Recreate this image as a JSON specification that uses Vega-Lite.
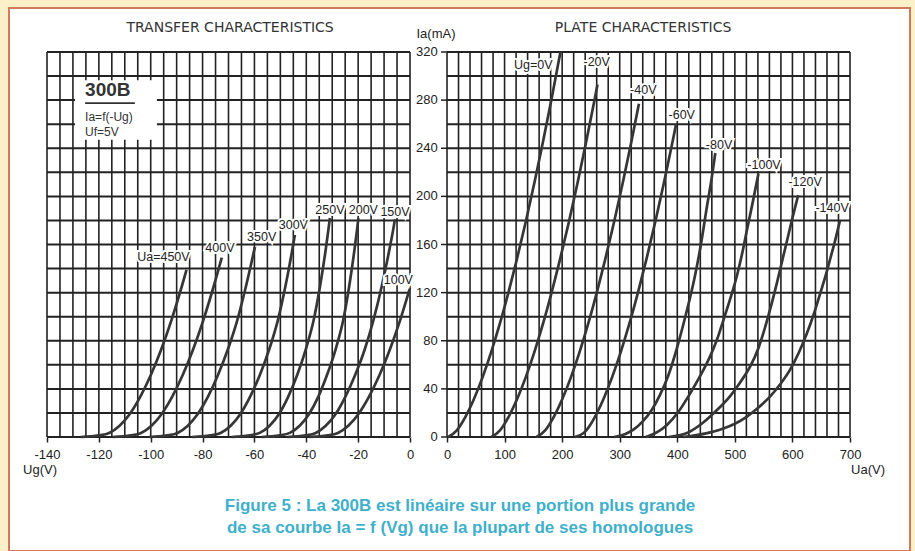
{
  "$schema": "https://vega.github.io/schema/vega-lite/v6.json",
  "width": 901,
  "height": 543,
  "autosize": {"type": "none"},
  "padding": {"left": 9, "top": 8, "right": 5, "bottom": 0},
  "background": "#fbf0c8",
  "config": {
    "view": {"fill": "#ffffff", "stroke": "#cf7a5a", "strokeWidth": 2},
    "font": "Liberation Sans"
  },
  "datasets": {
    "lv": [{"v":-140},{"v":-135},{"v":-130},{"v":-125},{"v":-120},{"v":-115},{"v":-110},{"v":-105},{"v":-100},{"v":-95},{"v":-90},{"v":-85},{"v":-80},{"v":-75},{"v":-70},{"v":-65},{"v":-60},{"v":-55},{"v":-50},{"v":-45},{"v":-40},{"v":-35},{"v":-30},{"v":-25},{"v":-20},{"v":-15},{"v":-10},{"v":-5},{"v":0}],
    "rv": [{"u":0},{"u":20},{"u":40},{"u":60},{"u":80},{"u":100},{"u":120},{"u":140},{"u":160},{"u":180},{"u":200},{"u":220},{"u":240},{"u":260},{"u":280},{"u":300},{"u":320},{"u":340},{"u":360},{"u":380},{"u":400},{"u":420},{"u":440},{"u":460},{"u":480},{"u":500},{"u":520},{"u":540},{"u":560},{"u":580},{"u":600},{"u":620},{"u":640},{"u":660},{"u":680},{"u":700}],
    "hh": [{"i":0},{"i":20},{"i":40},{"i":60},{"i":80},{"i":100},{"i":120},{"i":140},{"i":160},{"i":180},{"i":200},{"i":220},{"i":240},{"i":260},{"i":280},{"i":300},{"i":320}],
    "major": [{"i":0},{"i":40},{"i":80},{"i":120},{"i":160},{"i":200},{"i":240},{"i":280},{"i":320}],
    "transfer": [
      {"c":"450","ug":-127,"ia":0},{"c":"450","ug":-120,"ia":1.3},{"c":"450","ug":-116,"ia":3.4},{"c":"450","ug":-112,"ia":9.4},{"c":"450","ug":-108,"ia":19.4},{"c":"450","ug":-104,"ia":33.6},{"c":"450","ug":-100,"ia":51.3},{"c":"450","ug":-96,"ia":72.5},{"c":"450","ug":-92,"ia":97.2},{"c":"450","ug":-88,"ia":125.3},{"c":"450","ug":-86.2,"ia":139},
      {"c":"400","ug":-114.7,"ia":0},{"c":"400","ug":-107.7,"ia":1.3},{"c":"400","ug":-103.7,"ia":3.4},{"c":"400","ug":-99.7,"ia":9.4},{"c":"400","ug":-95.7,"ia":19.4},{"c":"400","ug":-91.7,"ia":33.6},{"c":"400","ug":-87.7,"ia":51.3},{"c":"400","ug":-83.7,"ia":72.5},{"c":"400","ug":-79.7,"ia":97.2},{"c":"400","ug":-75.7,"ia":125.3},{"c":"400","ug":-72.6,"ia":149},
      {"c":"350","ug":-100.6,"ia":0},{"c":"350","ug":-93.6,"ia":1.3},{"c":"350","ug":-89.65,"ia":3.4},{"c":"350","ug":-85.7,"ia":9.4},{"c":"350","ug":-81.8,"ia":19.4},{"c":"350","ug":-77.9,"ia":33.6},{"c":"350","ug":-74.1,"ia":51.3},{"c":"350","ug":-70.3,"ia":72.5},{"c":"350","ug":-66.6,"ia":97.2},{"c":"350","ug":-63.26,"ia":125.3},{"c":"350","ug":-59.8,"ia":158},
      {"c":"300","ug":-83.95,"ia":0},{"c":"300","ug":-76.95,"ia":1.3},{"c":"300","ug":-73.05,"ia":3.4},{"c":"300","ug":-69.15,"ia":9.4},{"c":"300","ug":-65.35,"ia":19.4},{"c":"300","ug":-61.65,"ia":33.6},{"c":"300","ug":-57.95,"ia":51.3},{"c":"300","ug":-54.35,"ia":72.5},{"c":"300","ug":-50.95,"ia":97.2},{"c":"300","ug":-48.05,"ia":125.3},{"c":"300","ug":-45.3,"ia":156.7},{"c":"300","ug":-44.4,"ia":168},
      {"c":"250","ug":-68.85,"ia":0},{"c":"250","ug":-61.9,"ia":1.3},{"c":"250","ug":-57.95,"ia":3.4},{"c":"250","ug":-54.15,"ia":9.4},{"c":"250","ug":-50.45,"ia":19.4},{"c":"250","ug":-46.95,"ia":33.6},{"c":"250","ug":-43.55,"ia":51.3},{"c":"250","ug":-40.25,"ia":72.5},{"c":"250","ug":-37.15,"ia":97.2},{"c":"250","ug":-34.7,"ia":125.3},{"c":"250","ug":-32.45,"ia":156.7},{"c":"250","ug":-31.4,"ia":173.6},{"c":"250","ug":-30.9,"ia":182},
      {"c":"200","ug":-57.25,"ia":0},{"c":"200","ug":-50.25,"ia":1.3},{"c":"200","ug":-46.35,"ia":3.4},{"c":"200","ug":-42.55,"ia":9.4},{"c":"200","ug":-38.85,"ia":19.4},{"c":"200","ug":-35.35,"ia":33.6},{"c":"200","ug":-32.05,"ia":51.3},{"c":"200","ug":-28.75,"ia":72.5},{"c":"200","ug":-25.75,"ia":97.2},{"c":"200","ug":-23.45,"ia":125.3},{"c":"200","ug":-21.35,"ia":156.7},{"c":"200","ug":-20.35,"ia":173.6},{"c":"200","ug":-19.9,"ia":182},
      {"c":"150","ug":-47.3,"ia":0},{"c":"150","ug":-40.3,"ia":1.3},{"c":"150","ug":-36.35,"ia":3.4},{"c":"150","ug":-32.5,"ia":9.4},{"c":"150","ug":-28.6,"ia":19.4},{"c":"150","ug":-24.9,"ia":33.6},{"c":"150","ug":-21.2,"ia":51.3},{"c":"150","ug":-17.5,"ia":72.5},{"c":"150","ug":-14.1,"ia":97.2},{"c":"150","ug":-10.9,"ia":125.3},{"c":"150","ug":-7.86,"ia":156.7},{"c":"150","ug":-6.38,"ia":173.6},{"c":"150","ug":-5.8,"ia":181},
      {"c":"100","ug":-38.8,"ia":0},{"c":"100","ug":-31.8,"ia":1.3},{"c":"100","ug":-27.8,"ia":3.4},{"c":"100","ug":-23.8,"ia":9.4},{"c":"100","ug":-19.8,"ia":19.4},{"c":"100","ug":-15.8,"ia":33.6},{"c":"100","ug":-11.8,"ia":51.3},{"c":"100","ug":-7.8,"ia":72.5},{"c":"100","ug":-3.8,"ia":97.2},{"c":"100","ug":0,"ia":124}
    ],
    "plate": [
      {"c":"0","ua":2,"ia":0},{"c":"0","ua":17,"ia":5.6},{"c":"0","ua":32,"ia":16.8},{"c":"0","ua":47,"ia":31.8},{"c":"0","ua":62,"ia":50},{"c":"0","ua":77,"ia":71},{"c":"0","ua":92,"ia":94.6},{"c":"0","ua":107,"ia":120.7},{"c":"0","ua":121,"ia":147},{"c":"0","ua":137,"ia":179.3},{"c":"0","ua":152,"ia":211.7},{"c":"0","ua":167,"ia":246},{"c":"0","ua":182,"ia":282},{"c":"0","ua":197,"ia":320},
      {"c":"-20","ua":77,"ia":0},{"c":"-20","ua":92,"ia":5.6},{"c":"-20","ua":107,"ia":16.8},{"c":"-20","ua":122,"ia":31.8},{"c":"-20","ua":137,"ia":50},{"c":"-20","ua":152,"ia":71},{"c":"-20","ua":167,"ia":94.6},{"c":"-20","ua":182,"ia":120.7},{"c":"-20","ua":196,"ia":147},{"c":"-20","ua":212,"ia":179.3},{"c":"-20","ua":227,"ia":211.7},{"c":"-20","ua":242,"ia":246},{"c":"-20","ua":257,"ia":282},{"c":"-20","ua":261.4,"ia":293},
      {"c":"-40","ua":155.5,"ia":0},{"c":"-40","ua":170.5,"ia":5.6},{"c":"-40","ua":185.5,"ia":16.8},{"c":"-40","ua":200.5,"ia":31.8},{"c":"-40","ua":215.5,"ia":50},{"c":"-40","ua":230.5,"ia":71},{"c":"-40","ua":245.5,"ia":94.6},{"c":"-40","ua":260.5,"ia":120.7},{"c":"-40","ua":274.5,"ia":147},{"c":"-40","ua":290.5,"ia":179.3},{"c":"-40","ua":305.5,"ia":211.7},{"c":"-40","ua":320.5,"ia":246},{"c":"-40","ua":333.4,"ia":277},
      {"c":"-60","ua":222,"ia":0},{"c":"-60","ua":240,"ia":4.5},{"c":"-60","ua":257,"ia":16.8},{"c":"-60","ua":272,"ia":31.8},{"c":"-60","ua":287,"ia":50},{"c":"-60","ua":302,"ia":71},{"c":"-60","ua":317,"ia":94.6},{"c":"-60","ua":332,"ia":120.7},{"c":"-60","ua":346,"ia":147},{"c":"-60","ua":362,"ia":179.3},{"c":"-60","ua":377,"ia":211.7},{"c":"-60","ua":392,"ia":246},{"c":"-60","ua":397.9,"ia":260},
      {"c":"-80","ua":290,"ia":0},{"c":"-80","ua":310,"ia":2.5},{"c":"-80","ua":325,"ia":6.5},{"c":"-80","ua":340,"ia":13},{"c":"-80","ua":355,"ia":22},{"c":"-80","ua":370,"ia":35},{"c":"-80","ua":385,"ia":52},{"c":"-80","ua":400,"ia":75},{"c":"-80","ua":415,"ia":102},{"c":"-80","ua":429,"ia":130},{"c":"-80","ua":441,"ia":160},{"c":"-80","ua":452,"ia":193},{"c":"-80","ua":460,"ia":216},{"c":"-80","ua":466,"ia":236},
      {"c":"-100","ua":345,"ia":0},{"c":"-100","ua":365,"ia":4},{"c":"-100","ua":382,"ia":10},{"c":"-100","ua":402,"ia":21},{"c":"-100","ua":422,"ia":36},{"c":"-100","ua":440,"ia":51},{"c":"-100","ua":457,"ia":67},{"c":"-100","ua":469,"ia":81},{"c":"-100","ua":480,"ia":97},{"c":"-100","ua":492,"ia":115},{"c":"-100","ua":503,"ia":133},{"c":"-100","ua":512,"ia":151},{"c":"-100","ua":521,"ia":172},{"c":"-100","ua":531,"ia":195},{"c":"-100","ua":541,"ia":219},
      {"c":"-120","ua":385,"ia":0},{"c":"-120","ua":420,"ia":4},{"c":"-120","ua":445,"ia":12},{"c":"-120","ua":468,"ia":22},{"c":"-120","ua":490,"ia":33},{"c":"-120","ua":510,"ia":46},{"c":"-120","ua":526,"ia":58},{"c":"-120","ua":541,"ia":74},{"c":"-120","ua":553,"ia":92},{"c":"-120","ua":564,"ia":111},{"c":"-120","ua":574,"ia":130},{"c":"-120","ua":583,"ia":148},{"c":"-120","ua":592,"ia":166},{"c":"-120","ua":601,"ia":184},{"c":"-120","ua":610,"ia":201},
      {"c":"-140","ua":410,"ia":0},{"c":"-140","ua":450,"ia":3},{"c":"-140","ua":480,"ia":7},{"c":"-140","ua":500,"ia":11},{"c":"-140","ua":521,"ia":17},{"c":"-140","ua":541,"ia":24.5},{"c":"-140","ua":561,"ia":33.5},{"c":"-140","ua":579,"ia":44},{"c":"-140","ua":596,"ia":56},{"c":"-140","ua":611,"ia":70},{"c":"-140","ua":625,"ia":86},{"c":"-140","ua":637,"ia":102},{"c":"-140","ua":648,"ia":119},{"c":"-140","ua":657,"ia":133},{"c":"-140","ua":665,"ia":147},{"c":"-140","ua":674,"ia":163},{"c":"-140","ua":682.6,"ia":180}
    ],
    "tlabels": [
      {"t":"Ua=450V","ug":-95.1,"ia":150},
      {"t":"400V","ug":-73.3,"ia":157},
      {"t":"350V","ug":-57.2,"ia":166},
      {"t":"300V","ug":-45,"ia":176},
      {"t":"250V","ug":-30.9,"ia":188.7},
      {"t":"200V","ug":-18,"ia":188.7},
      {"t":"150V","ug":-5.8,"ia":187.3},
      {"t":"100V","ug":-4.5,"ia":130.5}
    ],
    "plabels": [
      {"t":"Ug=0V","ua":150,"ia":309},
      {"t":"-20V","ua":260,"ia":312},
      {"t":"-40V","ua":341,"ia":288},
      {"t":"-60V","ua":407.7,"ia":267.7},
      {"t":"-80V","ua":472.5,"ia":242.7},
      {"t":"-100V","ua":550.6,"ia":226},
      {"t":"-120V","ua":622,"ia":212},
      {"t":"-140V","ua":668.8,"ia":190}
    ]
  },
  "layer": [
    {
      "layer": [
        {
          "data": {"name": "lv"},
          "mark": {"type": "rule", "color": "#222222", "strokeWidth": 1.6},
          "encoding": {
            "x": {"field": "v", "type": "quantitative",
              "scale": {"domain": [-154.655, 192.83], "nice": false, "zero": false},
              "axis": {"orient": "bottom", "offset": -114, "values": [-140,-120,-100,-80,-60,-40,-20,0], "domain": false, "grid": false, "tickSize": 5, "tickColor": "#222222", "tickWidth": 1.5, "labelFontSize": 13, "labelColor": "#222222", "labelPadding": 6, "labelFlush": false, "labelOverlap": false, "labelExpr": "'' + datum.value", "title": null}},
            "y": {"datum": 0, "type": "quantitative", "scale": {"domain": [-94.75, 356.57], "nice": false, "zero": false}, "axis": null},
            "y2": {"datum": 320}
          }
        },
        {
          "data": {"name": "hh"},
          "mark": {"type": "rule", "color": "#222222", "strokeWidth": 2},
          "encoding": {
            "y": {"field": "i", "type": "quantitative", "scale": {"domain": [-94.75, 356.57], "nice": false, "zero": false}, "axis": null},
            "x": {"datum": -140, "type": "quantitative"},
            "x2": {"datum": 0}
          }
        },
        {
          "data": {"values": [{"a": -129.2, "b": -97.6, "c": 247, "d": 296.5}]},
          "mark": {"type": "rect", "color": "#ffffff"},
          "encoding": {
            "x": {"field": "a", "type": "quantitative"},
            "x2": {"field": "b"},
            "y": {"field": "c", "type": "quantitative", "axis": null},
            "y2": {"field": "d"}
          }
        },
        {
          "data": {"name": "transfer"},
          "mark": {"type": "line", "color": "#363636", "strokeWidth": 2.7, "interpolate": "monotone"},
          "encoding": {
            "x": {"field": "ug", "type": "quantitative"},
            "y": {"field": "ia", "type": "quantitative", "axis": null},
            "detail": {"field": "c"}
          }
        },
        {
          "data": {"name": "tlabels"},
          "mark": {"type": "text", "fontSize": 12.5, "color": "#ffffff", "stroke": "#ffffff", "strokeWidth": 4, "baseline": "middle"},
          "encoding": {
            "x": {"field": "ug", "type": "quantitative"},
            "y": {"field": "ia", "type": "quantitative", "axis": null},
            "text": {"field": "t"}
          }
        },
        {
          "data": {"name": "tlabels"},
          "mark": {"type": "text", "fontSize": 12.5, "color": "#222222", "baseline": "middle"},
          "encoding": {
            "x": {"field": "ug", "type": "quantitative"},
            "y": {"field": "ia", "type": "quantitative", "axis": null},
            "text": {"field": "t"}
          }
        },
        {
          "data": {"values": [{"t": "300B", "ug": -125.3, "ia": 288.5}]},
          "mark": {"type": "text", "fontSize": 19, "fontWeight": "bold", "color": "#333333", "align": "left", "baseline": "middle"},
          "encoding": {
            "x": {"field": "ug", "type": "quantitative"},
            "y": {"field": "ia", "type": "quantitative", "axis": null},
            "text": {"field": "t"}
          }
        },
        {
          "data": {"values": [
            {"t": "Ia=f(-Ug)", "ug": -125.3, "ia": 266},
            {"t": "Uf=5V", "ug": -125.3, "ia": 253.5}
          ]},
          "mark": {"type": "text", "fontSize": 12, "color": "#333333", "align": "left", "baseline": "middle"},
          "encoding": {
            "x": {"field": "ug", "type": "quantitative"},
            "y": {"field": "ia", "type": "quantitative", "axis": null},
            "text": {"field": "t"}
          }
        },
        {
          "data": {"values": [{"a": -125.3, "b": -106.1, "c": 277.5}]},
          "mark": {"type": "rule", "color": "#333333", "strokeWidth": 1.6},
          "encoding": {
            "x": {"field": "a", "type": "quantitative"},
            "x2": {"field": "b"},
            "y": {"field": "c", "type": "quantitative", "axis": null}
          }
        },
        {
          "data": {"values": [{"t": "TRANSFER CHARACTERISTICS", "ug": -69.4, "ia": 340}]},
          "mark": {"type": "text", "font": "DejaVu Sans", "fontSize": 14, "color": "#333333", "baseline": "middle"},
          "encoding": {
            "x": {"field": "ug", "type": "quantitative"},
            "y": {"field": "ia", "type": "quantitative", "axis": null},
            "text": {"field": "t"}
          }
        },
        {
          "data": {"values": [{"t": "Ug(V)", "ug": -142.7, "ia": -27.4}]},
          "mark": {"type": "text", "fontSize": 13, "color": "#222222", "baseline": "middle"},
          "encoding": {
            "x": {"field": "ug", "type": "quantitative"},
            "y": {"field": "ia", "type": "quantitative", "axis": null},
            "text": {"field": "t"}
          }
        },
        {
          "data": {"values": [
            {"t": "Figure 5 : La 300B est linéaire sur une portion plus grande", "ug": 19.3, "ia": -57.4},
            {"t": "de sa courbe Ia = f (Vg) que la plupart de ses homologues", "ug": 19.3, "ia": -75.6}
          ]},
          "mark": {"type": "text", "fontSize": 17, "fontWeight": "bold", "color": "#3fb0cb", "baseline": "middle"},
          "encoding": {
            "x": {"field": "ug", "type": "quantitative"},
            "y": {"field": "ia", "type": "quantitative", "axis": null},
            "text": {"field": "t"}
          }
        }
      ]
    },
    {
      "layer": [
        {
          "data": {"name": "rv"},
          "mark": {"type": "rule", "color": "#222222", "strokeWidth": 1.6},
          "encoding": {
            "x": {"field": "u", "type": "quantitative",
              "scale": {"domain": [-760.8, 804.2], "nice": false, "zero": false},
              "axis": {"orient": "bottom", "offset": -114, "values": [0,100,200,300,400,500,600,700], "domain": false, "grid": false, "tickSize": 5, "tickColor": "#222222", "tickWidth": 1.5, "labelFontSize": 13, "labelColor": "#222222", "labelPadding": 6, "labelFlush": false, "labelOverlap": false, "labelExpr": "'' + datum.value", "title": null}},
            "y": {"datum": 0, "type": "quantitative", "axis": null},
            "y2": {"datum": 320}
          }
        },
        {
          "data": {"name": "hh"},
          "mark": {"type": "rule", "color": "#222222", "strokeWidth": 2},
          "encoding": {
            "y": {"field": "i", "type": "quantitative", "axis": null},
            "x": {"datum": 0, "type": "quantitative"},
            "x2": {"datum": 700}
          }
        },
        {
          "data": {"name": "major"},
          "mark": {"type": "rule", "color": "#222222", "strokeWidth": 1.5},
          "encoding": {
            "y": {"field": "i", "type": "quantitative", "axis": null},
            "x": {"datum": -10.4, "type": "quantitative"},
            "x2": {"datum": 0}
          }
        },
        {
          "data": {"name": "major"},
          "mark": {"type": "text", "fontSize": 13, "color": "#222222", "align": "right", "baseline": "middle"},
          "encoding": {
            "y": {"field": "i", "type": "quantitative", "axis": null},
            "x": {"datum": -16, "type": "quantitative"},
            "text": {"field": "i", "type": "quantitative"}
          }
        },
        {
          "data": {"name": "plate"},
          "mark": {"type": "line", "color": "#363636", "strokeWidth": 2.7, "interpolate": "monotone"},
          "encoding": {
            "x": {"field": "ua", "type": "quantitative"},
            "y": {"field": "ia", "type": "quantitative", "axis": null},
            "detail": {"field": "c"}
          }
        },
        {
          "data": {"name": "plabels"},
          "mark": {"type": "text", "fontSize": 12.5, "color": "#ffffff", "stroke": "#ffffff", "strokeWidth": 4, "baseline": "middle"},
          "encoding": {
            "x": {"field": "ua", "type": "quantitative"},
            "y": {"field": "ia", "type": "quantitative", "axis": null},
            "text": {"field": "t"}
          }
        },
        {
          "data": {"name": "plabels"},
          "mark": {"type": "text", "fontSize": 12.5, "color": "#222222", "baseline": "middle"},
          "encoding": {
            "x": {"field": "ua", "type": "quantitative"},
            "y": {"field": "ia", "type": "quantitative", "axis": null},
            "text": {"field": "t"}
          }
        },
        {
          "data": {"values": [{"t": "PLATE CHARACTERISTICS", "ua": 340.5, "ia": 340}]},
          "mark": {"type": "text", "font": "DejaVu Sans", "fontSize": 14, "color": "#333333", "baseline": "middle"},
          "encoding": {
            "x": {"field": "ua", "type": "quantitative"},
            "y": {"field": "ia", "type": "quantitative", "axis": null},
            "text": {"field": "t"}
          }
        },
        {
          "data": {"values": [
            {"t": "Ia(mA)", "ua": -19.1, "ia": 335},
            {"t": "Ua(V)", "ua": 731.3, "ia": -27.4}
          ]},
          "mark": {"type": "text", "fontSize": 13, "color": "#222222", "baseline": "middle"},
          "encoding": {
            "x": {"field": "ua", "type": "quantitative"},
            "y": {"field": "ia", "type": "quantitative", "axis": null},
            "text": {"field": "t"}
          }
        }
      ]
    }
  ],
  "resolve": {"scale": {"x": "independent"}, "axis": {"x": "independent"}}
}
